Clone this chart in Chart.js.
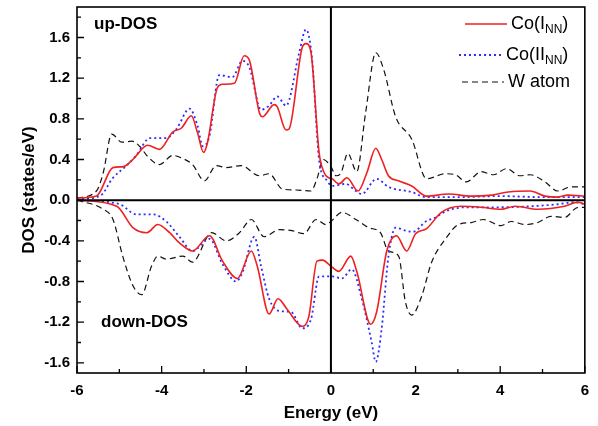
<!DOCTYPE html>
<html>
<head>
<meta charset="utf-8">
<script src="https://cdn.jsdelivr.net/npm/chart.js@4.4.1/dist/chart.umd.min.js"></script>
<style>
html, body { margin: 0; padding: 0; background: #fff; }
#wrap { width: 598px; height: 426px; position: relative; }
</style>
</head>
<body>
<div id="wrap"><canvas id="chart"></canvas></div>
<script>
// energies (eV) and DOS values
const coIUpE = [-6, -5.54, -5.15, -4.9, -4.68, -4.33, -4.05, -3.74, -3.53, -3.3, -3.15, -3.01, -2.92, -2.68, -2.56, -2.28, -2.05, -1.93, -1.69, -1.62, -1.34, -1.27, -1.06, -0.99, -0.68, -0.59, -0.47, -0.28, -0.16, -0.05, 0.03, 0.19, 0.38, 0.64, 0.85, 1.06, 1.2, 1.36, 1.6, 1.91, 2.26, 2.78, 3.32, 3.8, 4.19, 4.71, 5.06, 5.36, 5.6, 6];
const coIUp = [0.02, 0.04, 0.32, 0.33, 0.40, 0.54, 0.50, 0.67, 0.71, 0.83, 0.66, 0.47, 0.56, 1.11, 1.14, 1.15, 1.42, 1.38, 0.86, 0.82, 0.94, 0.92, 0.69, 0.70, 1.50, 1.54, 1.45, 0.47, 0.27, 0.22, 0.21, 0.16, 0.22, 0.09, 0.27, 0.51, 0.40, 0.24, 0.19, 0.14, 0.04, 0.06, 0.04, 0.05, 0.08, 0.09, 0.04, 0.03, 0.05, 0.04];

const coIIUpE = [-6, -5.46, -5.15, -4.83, -4.6, -4.28, -3.89, -3.65, -3.34, -3.15, -3.03, -2.87, -2.64, -2.33, -2.09, -1.93, -1.65, -1.46, -1.27, -1.06, -0.75, -0.59, -0.45, -0.28, -0.09, 0.03, 0.35, 0.59, 0.73, 1.08, 1.36, 1.91, 2.24, 3, 4, 5, 6];
const coIIUp = [0.01, 0.04, 0.22, 0.34, 0.44, 0.61, 0.61, 0.70, 0.90, 0.73, 0.53, 0.63, 1.23, 1.21, 1.37, 1.31, 0.89, 0.93, 1.02, 0.93, 1.45, 1.68, 1.41, 0.40, 0.19, 0.14, 0.16, 0.09, 0.06, 0.21, 0.13, 0.08, 0.03, 0.03, 0.04, 0.03, 0.03];

const wUpE = [-6, -5.54, -5.38, -5.18, -4.94, -4.7, -4.52, -4.33, -4.05, -3.74, -3.5, -3.27, -2.99, -2.71, -2.47, -2.12, -1.69, -1.46, -1.15, -0.82, -0.47, -0.33, -0.18, 0, 0.12, 0.24, 0.4, 0.61, 0.82, 1.06, 1.25, 1.53, 1.91, 2.26, 2.71, 2.94, 3.2, 3.55, 3.84, 4.15, 4.47, 4.71, 5.06, 5.36, 5.67, 6];
const wUp = [0.02, 0.09, 0.27, 0.65, 0.57, 0.58, 0.53, 0.43, 0.35, 0.44, 0.41, 0.35, 0.19, 0.34, 0.32, 0.34, 0.24, 0.26, 0.11, 0.10, 0.09, 0.21, 0.40, 0.33, 0.24, 0.27, 0.46, 0.28, 0.86, 1.45, 1.28, 0.82, 0.60, 0.21, 0.26, 0.25, 0.18, 0.28, 0.25, 0.31, 0.24, 0.25, 0.18, 0.09, 0.13, 0.13];

const coIDnE = [-6, -5.06, -4.68, -4.35, -4.09, -3.81, -3.58, -3.27, -2.87, -2.56, -2.21, -1.88, -1.74, -1.46, -1.25, -1.04, -0.68, -0.52, -0.33, -0.2, 0.03, 0.19, 0.47, 0.61, 0.94, 1.08, 1.32, 1.55, 1.79, 2.0, 2.26, 2.61, 3.08, 3.55, 4.02, 4.35, 4.89, 5.52, 5.84, 6];
const coIDn = [0, -0.06, -0.27, -0.32, -0.24, -0.32, -0.42, -0.50, -0.35, -0.60, -0.77, -0.50, -0.65, -1.12, -0.97, -1.07, -1.24, -1.14, -0.60, -0.59, -0.66, -0.70, -0.55, -0.70, -1.22, -1.10, -0.50, -0.35, -0.50, -0.33, -0.28, -0.12, -0.06, -0.07, -0.09, -0.06, -0.09, -0.06, -0.02, -0.04];

const coIIDnE = [-6, -4.99, -4.6, -4.2, -3.89, -3.58, -3.27, -2.87, -2.56, -2.24, -2.09, -1.81, -1.65, -1.46, -1.22, -0.94, -0.68, -0.47, -0.28, -0.09, 0.03, 0.26, 0.49, 0.73, 0.96, 1.06, 1.2, 1.36, 1.53, 1.76, 1.95, 2.24, 2.47, 2.71, 3.18, 3.95, 4.73, 5.36, 5.76, 6];
const coIIDn = [0, -0.04, -0.14, -0.14, -0.21, -0.36, -0.50, -0.38, -0.63, -0.80, -0.71, -0.36, -0.65, -0.97, -1.09, -1.10, -1.26, -1.17, -0.75, -0.75, -0.75, -0.77, -0.68, -0.97, -1.39, -1.59, -1.26, -0.55, -0.27, -0.30, -0.31, -0.21, -0.17, -0.11, -0.07, -0.07, -0.06, -0.04, -0.02, -0.04];

const wDnE = [-6, -5.38, -5.15, -4.92, -4.68, -4.47, -4.24, -4.09, -3.89, -3.5, -3.27, -2.82, -2.47, -2.16, -1.88, -1.58, -1.22, -0.92, -0.64, -0.35, -0.12, 0, 0.26, 0.59, 0.89, 1.17, 1.36, 1.6, 1.76, 1.91, 2.14, 2.38, 2.71, 3.01, 3.32, 3.6, 4.02, 4.26, 4.59, 4.89, 5.2, 5.52, 5.84, 6];
const wDn = [0, -0.09, -0.19, -0.55, -0.84, -0.93, -0.65, -0.55, -0.58, -0.55, -0.61, -0.32, -0.40, -0.32, -0.19, -0.36, -0.29, -0.30, -0.33, -0.19, -0.24, -0.21, -0.12, -0.19, -0.27, -0.32, -0.50, -0.55, -1.00, -1.13, -0.95, -0.61, -0.38, -0.24, -0.22, -0.19, -0.25, -0.21, -0.24, -0.22, -0.16, -0.17, -0.07, -0.07];

const seriesNames = ['Co(I_NN)', 'Co(II_NN)', 'W atom'];
const xTicks = [-6, -4, -2, 0, 2, 4, 6];
const yTicks = [-1.6, -1.2, -0.8, -0.4, 0, 0.4, 0.8, 1.2, 1.6];

const RED = '#ee2020';
const BLUE = '#2b2bff';
const BLACK = '#111111';
const FONT = '"Liberation Sans", Arial, sans-serif';

Chart.defaults.font.family = FONT;
Chart.defaults.color = '#000';

const pts = (xs, ys) => xs.map((x, i) => ({ x: x, y: ys[i] }));

const styles = [
    { borderColor: RED, borderWidth: 1.6, borderDash: [] },
    { borderColor: BLUE, borderWidth: 1.8, borderDash: [2, 3] },
    { borderColor: BLACK, borderWidth: 1.2, borderDash: [6, 4] }
];

const curves = [
    [coIUpE, coIUp, 0], [coIIUpE, coIIUp, 1], [wUpE, wUp, 2],
    [coIDnE, coIDn, 0], [coIIDnE, coIIDn, 1], [wDnE, wDn, 2]
];

const datasets = curves.map(([xs, ys, s]) => Object.assign({
    label: seriesNames[s],
    data: pts(xs, ys),
    pointRadius: 0,
    fill: false,
    cubicInterpolationMode: 'monotone'
}, styles[s]));

const framePlugin = {
    id: 'frame',
    afterDatasetsDraw(chart) {
        const { ctx, chartArea: a, scales: { x, y } } = chart;
        ctx.save();
        ctx.strokeStyle = '#000';

        // zero lines
        ctx.lineWidth = 2;
        ctx.beginPath();
        ctx.moveTo(a.left, y.getPixelForValue(0));
        ctx.lineTo(a.right, y.getPixelForValue(0));
        ctx.moveTo(x.getPixelForValue(0), a.top);
        ctx.lineTo(x.getPixelForValue(0), a.bottom);
        ctx.stroke();

        // inward tick marks, majors from the scale ticks, minors halfway
        ctx.lineWidth = 1.3;
        ctx.beginPath();
        x.ticks.forEach(t => {
            const px = x.getPixelForValue(t.value);
            ctx.moveTo(px, a.bottom); ctx.lineTo(px, a.bottom - 7);
            const m = x.getPixelForValue(t.value + 1);
            if (t.value + 1 < x.max) { ctx.moveTo(m, a.bottom); ctx.lineTo(m, a.bottom - 4); }
        });
        y.ticks.forEach(t => {
            const py = y.getPixelForValue(t.value);
            ctx.moveTo(a.left, py); ctx.lineTo(a.left + 7, py);
            const m = y.getPixelForValue(t.value + 0.2);
            ctx.moveTo(a.left, m); ctx.lineTo(a.left + 4, m);
        });
        const m0 = y.getPixelForValue(y.ticks[0].value - 0.2);
        if (m0 < a.bottom) { ctx.moveTo(a.left, m0); ctx.lineTo(a.left + 4, m0); }
        ctx.stroke();

        // box
        ctx.lineWidth = 1.6;
        ctx.strokeRect(a.left, a.top, a.right - a.left, a.bottom - a.top);

        // panel labels
        ctx.fillStyle = '#000';
        ctx.font = 'bold 17px ' + FONT;
        ctx.textBaseline = 'middle';
        ctx.textAlign = 'left';
        ctx.fillText('up-DOS', 94, 24);
        ctx.fillText('down-DOS', 101, 322);

        // legend
        const rows = [
            { y: 24, x0: 465, x1: 507, tx: 511 },
            { y: 55, x0: 459, x1: 503, tx: 506 },
            { y: 82, x0: 462, x1: 504, tx: 508 }
        ];
        rows.forEach((r, i) => {
            const st = styles[i];
            ctx.strokeStyle = st.borderColor;
            ctx.lineWidth = st.borderWidth;
            ctx.setLineDash(st.borderDash);
            ctx.beginPath();
            ctx.moveTo(r.x0, r.y); ctx.lineTo(r.x1, r.y);
            ctx.stroke();
            ctx.setLineDash([]);
            const parts = seriesNames[i].split('_');
            let tx = r.tx;
            ctx.font = '18px ' + FONT;
            if (parts.length === 1) {
                ctx.fillText(parts[0], tx, r.y);
            } else {
                ctx.fillText(parts[0], tx, r.y);
                tx += ctx.measureText(parts[0]).width;
                const sub = parts[1].replace(')', '');
                ctx.font = '12px ' + FONT;
                ctx.fillText(sub, tx, r.y + 6);
                tx += ctx.measureText(sub).width;
                ctx.font = '18px ' + FONT;
                ctx.fillText(')', tx, r.y);
            }
        });
        ctx.restore();
    }
};

new Chart(document.getElementById('chart'), {
    type: 'line',
    data: { datasets },
    options: {
        responsive: true,
        maintainAspectRatio: false,
        animation: false,
        layout: { padding: { top: 7, right: 11, left: 0, bottom: 0 } },
        plugins: { legend: { display: false }, tooltip: { enabled: false } },
        scales: {
            x: {
                type: 'linear',
                min: -6,
                max: 6,
                afterFit: s => { s.height = 53; },
                afterBuildTicks: s => { s.ticks = xTicks.map(v => ({ value: v })); },
                grid: { display: false, drawTicks: false },
                border: { display: false },
                ticks: { padding: 9, font: { size: 15, weight: 'bold' }, maxRotation: 0 },
                title: { display: true, text: 'Energy (eV)', font: { size: 17, weight: 'bold' }, padding: { top: 0, bottom: 2 } }
            },
            y: {
                min: -1.7,
                max: 1.9,
                afterFit: s => { s.width = 77; s.paddingTop = 0; s.paddingBottom = 0; },
                afterBuildTicks: s => { s.ticks = yTicks.map(v => ({ value: v })); },
                grid: { display: false, drawTicks: false },
                border: { display: false },
                ticks: {
                    padding: 7,
                    font: { size: 15, weight: 'bold' },
                    callback: v => v.toFixed(1)
                },
                title: { display: true, text: 'DOS (states/eV)', font: { size: 17, weight: 'bold' }, padding: { top: 19, bottom: 0 } }
            }
        }
    },
    plugins: [framePlugin]
});
</script>
</body>
</html>
